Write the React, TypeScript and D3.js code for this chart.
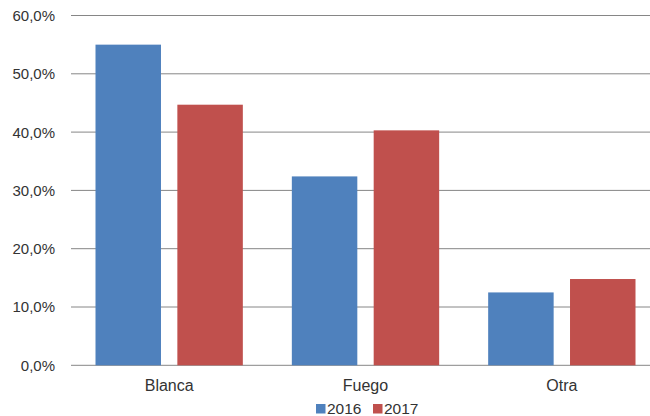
import React from "react";
import * as d3 from "d3";

const categories = ["Blanca", "Fuego", "Otra"];
const seriesNames = ["2016", "2017"];
const values2016 = [55.0, 32.4, 12.5];
const values2017 = [44.7, 40.3, 14.8];
const yTicks = [0, 10, 20, 30, 40, 50, 60];
const colors = ["#4F81BD", "#C0504D"];

export default function App() {
  const W = 650, H = 416;
  const left = 71, right = 660, top = 15.5, bottom = 365.3;
  const x = d3.scaleBand<string>().domain(categories).range([left, right]).paddingInner(0).paddingOuter(0);
  const inner = d3.scaleBand<string>().domain(seriesNames).range([24.5, x.bandwidth() - 24.5]).paddingInner(0.2).paddingOuter(0);
  const y = d3.scaleLinear().domain([0, 60]).range([bottom, top]);
  const series = [values2016, values2017];
  const fmt = (v: number) => v.toFixed(1).replace(".", ",") + "%";
  const font = "'Liberation Sans', Arial, Helvetica, sans-serif";
  return (
    <svg width={W} height={H} style={{ position: "absolute", left: 0, top: 0, background: "#fff" }} fontFamily={font}>
      <rect width={W} height={H} fill="#fff" />
      {yTicks.map((t) => (
        <g key={t}>
          <line x1={left} x2={W} y1={y(t)} y2={y(t)} stroke="#868686" strokeWidth={1} />
          <text x={55} y={y(t)} dy="0.36em" textAnchor="end" fontSize={15} fill="#333">{fmt(t)}</text>
        </g>
      ))}
      {categories.map((c, i) => (
        <g key={c} transform={`translate(${x(c)},0)`}>
          {series.map((vals, s) => (
            <rect key={s} x={inner(seriesNames[s])} width={inner.bandwidth()} y={y(vals[i])} height={y(0) - y(vals[i])} fill={colors[s]} />
          ))}
          <text x={x.bandwidth() / 2} y={391} textAnchor="middle" fontSize={16} fill="#333">{c}</text>
        </g>
      ))}
      <g>
        <rect x={316} y={404} width={9.5} height={9.5} fill={colors[0]} />
        <text x={327} y={413.5} fontSize={15.5} fill="#333">{seriesNames[0]}</text>
        <rect x={373} y={404} width={9.5} height={9.5} fill={colors[1]} />
        <text x={384} y={413.5} fontSize={15.5} fill="#333">{seriesNames[1]}</text>
      </g>
    </svg>
  );
}
